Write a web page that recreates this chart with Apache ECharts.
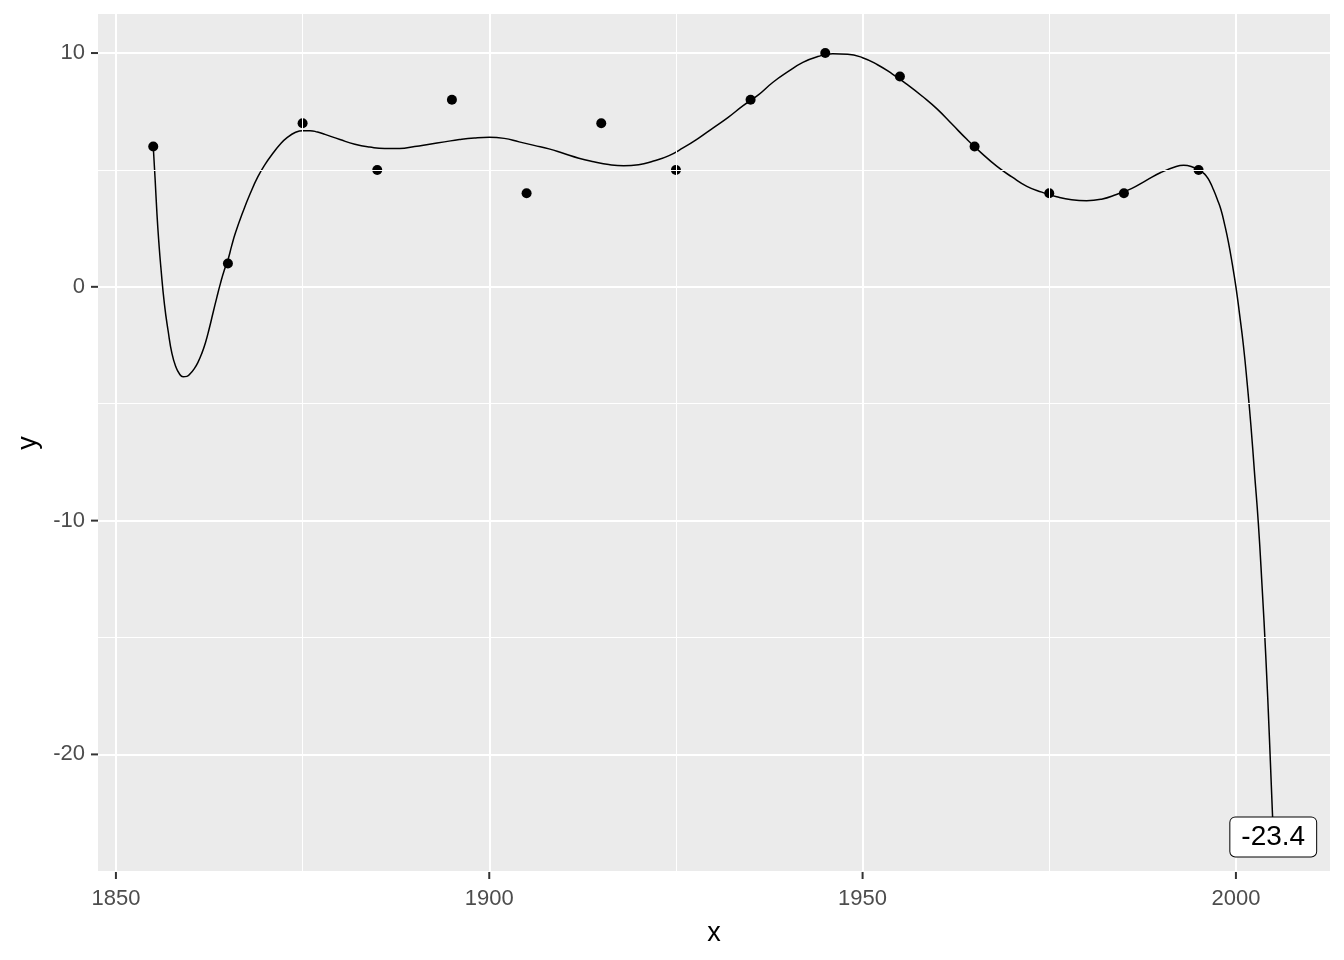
<!DOCTYPE html>
<html>
<head>
<meta charset="utf-8">
<script src="https://cdn.jsdelivr.net/npm/echarts@6/dist/echarts.min.js"></script>
<style>
  html, body { margin: 0; padding: 0; background: #ffffff; }
  #chart { width: 1344px; height: 960px; }
</style>
</head>
<body>
<div id="chart"></div>
<script>
// Observed points
const pointX = [1855, 1865, 1875, 1885, 1895, 1905, 1915, 1925, 1935, 1945, 1955, 1965, 1975, 1985, 1995];
const pointY = [6, 1, 7, 5, 8, 4, 7, 5, 8, 10, 9, 6, 4, 4, 5];

// Fitted curve
const curveX = [1855, 1855.25, 1855.5, 1855.75, 1856, 1856.5, 1857, 1857.5, 1858, 1858.5, 1859, 1859.5,
  1860, 1860.5, 1861, 1861.5, 1862, 1862.5, 1863, 1863.5, 1864, 1864.5, 1865, 1865.5, 1866, 1867, 1868,
  1869, 1870, 1871, 1872, 1873, 1874, 1875, 1876, 1877, 1878, 1880, 1882, 1884, 1886, 1888, 1890, 1892,
  1894, 1896, 1898, 1900, 1902, 1904, 1906, 1908, 1910, 1912, 1914, 1916, 1918, 1920, 1922, 1924, 1926,
  1928, 1930, 1932, 1934, 1936, 1938, 1940, 1942, 1944, 1946, 1948, 1950, 1952, 1954, 1956, 1958, 1960,
  1962, 1964, 1966, 1968, 1970, 1972, 1974, 1976, 1978, 1980, 1982, 1984, 1986, 1988, 1990, 1992, 1993,
  1994, 1995, 1995.5, 1996, 1996.5, 1997, 1997.5, 1998, 1998.5, 1999, 1999.5, 2000, 2000.5, 2001, 2001.5,
  2002, 2002.5, 2003, 2003.5, 2004, 2004.5, 2005];
const curveY = [6.0, 4.6, 3.1, 1.9, 0.9, -0.75, -1.9, -2.85, -3.4, -3.72, -3.85, -3.83,
  -3.7, -3.5, -3.22, -2.85, -2.38, -1.78, -1.12, -0.47, 0.15, 0.7, 1.15, 1.75, 2.3, 3.2, 4.0,
  4.7, 5.25, 5.7, 6.1, 6.4, 6.6, 6.68, 6.68, 6.62, 6.52, 6.3, 6.1, 5.98, 5.92, 5.92, 6.0, 6.1,
  6.2, 6.3, 6.37, 6.4, 6.35, 6.2, 6.05, 5.9, 5.7, 5.5, 5.35, 5.23, 5.18, 5.22, 5.38, 5.6, 5.95,
  6.35, 6.8, 7.25, 7.75, 8.2, 8.75, 9.2, 9.6, 9.85, 9.97, 9.95, 9.8, 9.5, 9.1, 8.65, 8.15, 7.6,
  6.95, 6.3, 5.7, 5.15, 4.7, 4.3, 4.05, 3.85, 3.72, 3.68, 3.75, 3.95, 4.2, 4.55, 4.9, 5.15, 5.2,
  5.15, 5.0, 4.9, 4.75, 4.5, 4.15, 3.75, 3.3, 2.65, 1.9, 1.0, 0, -1.2, -2.5, -4.1,
  -5.9, -8.0, -10.1, -12.8, -15.8, -19.4, -23.4];

// End label
const labelX = [2005];
const labelY = [-23.4];

// Axis ticks
const xMajor = [1850, 1900, 1950, 2000];
const xMinor = [1875, 1925, 1975];
const yMajor = [-20, -10, 0, 10];
const yMinor = [-25, -15, -5, 5];
const xRange = [1847.6, 2012.6];
const yRange = [-25.03, 11.67];

const FONT = '"Liberation Sans", Arial, sans-serif';
const TICK_LEN = 7;

const chart = echarts.init(document.getElementById('chart'), null, { renderer: 'canvas' });

const minorLines = [];
xMinor.forEach(v => minorLines.push({ xAxis: v }));
yMinor.forEach(v => minorLines.push({ yAxis: v }));

const edgeLine = { show: false, onZero: false };

// Tick marks are drawn as part of each axis label (rich-text blocks), so they sit at the axis values.
const xLabelRich = {
  t: { width: 2, height: TICK_LEN, lineHeight: TICK_LEN, fontSize: 1, backgroundColor: '#333333', align: 'center' },
  v: { color: '#4D4D4D', fontSize: 22, lineHeight: 40, fontFamily: FONT, align: 'center' }
};
const yLabelRich = {
  v: { color: '#4D4D4D', fontSize: 22, lineHeight: 24, fontFamily: FONT, align: 'right' },
  s: { width: 6, fontSize: 1, align: 'right' },
  t: { width: TICK_LEN, height: 2, fontSize: 1, backgroundColor: '#333333', align: 'right' }
};

chart.setOption({
  animation: false,
  backgroundColor: '#ffffff',
  grid: {
    left: 98, right: 14, top: 14, bottom: 88,
    show: true, backgroundColor: '#EBEBEB', borderWidth: 0
  },
  xAxis: {
    type: 'value',
    min: xRange[0], max: xRange[1],
    name: 'x', nameLocation: 'middle', nameGap: 48,
    nameTextStyle: { color: '#000000', fontSize: 27, fontFamily: FONT },
    axisLine: edgeLine,
    axisTick: { show: false, customValues: xMajor },
    axisLabel: { customValues: xMajor, margin: 0, fontFamily: FONT, rich: xLabelRich,
      formatter: v => '{t| }\n{v|' + v + '}' },
    splitLine: { show: true, lineStyle: { color: '#FFFFFF', width: 2 } }
  },
  yAxis: {
    type: 'value',
    min: yRange[0], max: yRange[1],
    name: 'y', nameLocation: 'middle', nameGap: 50, nameRotate: 90,
    nameTextStyle: { color: '#000000', fontSize: 27, fontFamily: FONT },
    axisLine: edgeLine,
    axisTick: { show: false, customValues: yMajor },
    axisLabel: { customValues: yMajor, margin: 0, fontFamily: FONT, rich: yLabelRich,
      formatter: v => '{v|' + v + '}{s| }{t| }' },
    splitLine: { show: true, lineStyle: { color: '#FFFFFF', width: 2 } }
  },
  series: [
    {
      type: 'line',
      data: [],
      z: 1,
      silent: true,
      markLine: {
        silent: true,
        symbol: 'none',
        label: { show: false },
        lineStyle: { color: '#FFFFFF', width: 1, type: 'solid' },
        data: minorLines
      }
    },
    {
      type: 'line',
      data: curveX.map((x, i) => [x, curveY[i]]),
      showSymbol: false,
      smooth: 0.5,
      z: 3,
      lineStyle: { color: '#000000', width: 1.5 }
    },
    {
      type: 'scatter',
      data: pointX.map((x, i) => [x, pointY[i]]),
      symbolSize: 10,
      z: 4,
      itemStyle: { color: '#000000', opacity: 1 }
    },
    {
      type: 'scatter',
      data: labelX.map((x, i) => [x, labelY[i]]),
      symbolSize: 1,
      z: 5,
      itemStyle: { color: 'rgba(0,0,0,0)', opacity: 1 },
      label: {
        show: true,
        position: 'inside',
        offset: [0, 3],
        formatter: p => String(p.value[1]),
        color: '#000000',
        fontSize: 28,
        fontFamily: FONT,
        backgroundColor: '#FFFFFF',
        borderColor: '#000000',
        borderWidth: 1,
        borderRadius: 5,
        padding: [5, 11, 4, 11],
        lineHeight: 30
      }
    }
  ]
});
</script>
</body>
</html>
